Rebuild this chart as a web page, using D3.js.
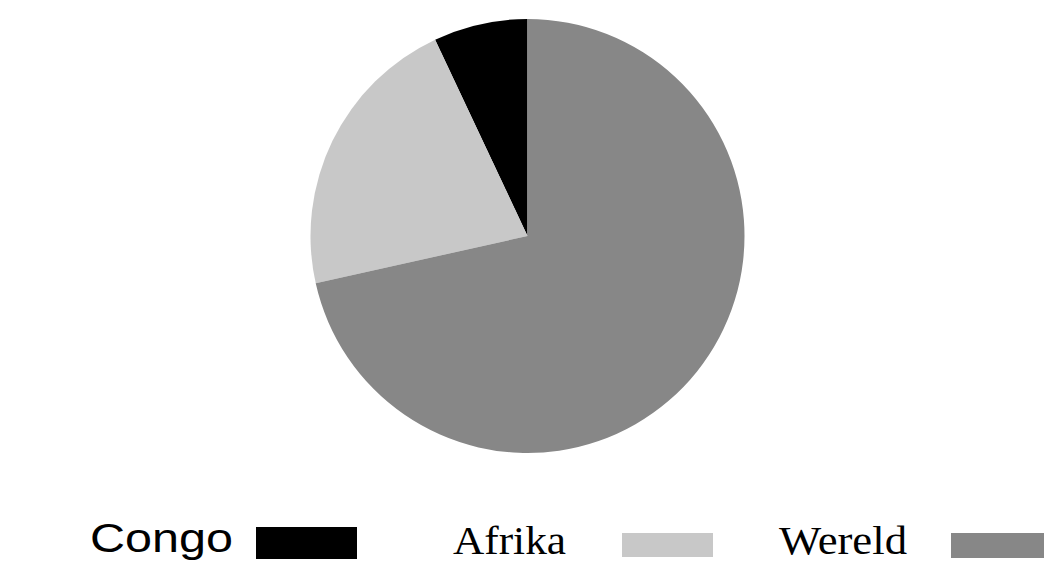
<!DOCTYPE html>
<html>
<head>
<meta charset="utf-8">
<script src="https://cdn.jsdelivr.net/npm/d3@7"></script>
<style>
  body { margin: 0; background: #fff; }
</style>
</head>
<body>
<svg width="1044" height="563"></svg>
<script>
const labels = ["Congo", "Afrika", "Wereld"];
const values = [7, 21.5, 71.5];
const colors = ["#000000", "#c8c8c8", "#878787"];

const svg = d3.select("svg");

const color = d3.scaleOrdinal().domain(labels).range(colors);

const data = labels.map((l, i) => ({ label: l, value: values[i] }));

// slices run counter-clockwise from 12 o'clock
const pie = d3.pie()
    .value(d => d.value)
    .sort(null)
    .startAngle(0)
    .endAngle(-2 * Math.PI);

const arc = d3.arc().innerRadius(0).outerRadius(217);

const g = svg.append("g")
    .attr("transform", "translate(527.5,236)");

g.selectAll("path")
    .data(pie(data))
    .enter()
    .append("path")
    .attr("d", arc)
    .attr("fill", d => color(d.data.label));

// legend: label text then a swatch
const legend = [
    { label: "Congo", tx: 90, ty: 552, tw: 143, font: "'Liberation Sans', Arial, sans-serif", size: 41, rx: 256, ry: 527, rw: 101, rh: 32 },
    { label: "Afrika", tx: 453, ty: 554, tw: 113, font: "'Liberation Serif', 'Times New Roman', serif", size: 41, rx: 622, ry: 533, rw: 91, rh: 24 },
    { label: "Wereld", tx: 779, ty: 554, tw: 128, font: "'Liberation Serif', 'Times New Roman', serif", size: 41, rx: 951, ry: 533, rw: 93, rh: 25 }
];

const lg = svg.append("g").attr("class", "legend");

lg.selectAll("text")
    .data(legend)
    .enter()
    .append("text")
    .attr("x", d => d.tx)
    .attr("y", d => d.ty)
    .attr("textLength", d => d.tw)
    .attr("lengthAdjust", "spacingAndGlyphs")
    .style("font-family", d => d.font)
    .style("font-size", d => d.size + "px")
    .style("fill", "#000")
    .text(d => d.label);

lg.selectAll("rect")
    .data(legend)
    .enter()
    .append("rect")
    .attr("x", d => d.rx)
    .attr("y", d => d.ry)
    .attr("width", d => d.rw)
    .attr("height", d => d.rh)
    .attr("fill", d => color(d.label));
</script>
</body>
</html>
